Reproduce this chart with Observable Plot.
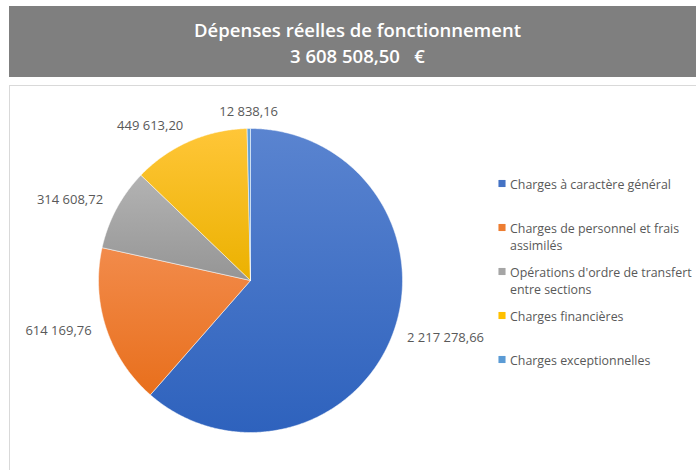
<!DOCTYPE html>
<html><head><meta charset="utf-8">
<script src="https://cdn.jsdelivr.net/npm/d3@7"></script>
<script src="https://cdn.jsdelivr.net/npm/@observablehq/plot@0.6"></script>
<style>
html,body{margin:0;padding:0;background:#fff;width:696px;height:470px;overflow:hidden;}
#header{position:absolute;left:9px;top:6px;width:687px;height:71px;background:#7f7f7f;color:#fff;font-family:"Open Sans",sans-serif;font-weight:600;font-size:18.5px;text-align:center;line-height:26px;padding-top:11px;padding-left:10px;box-sizing:border-box;white-space:pre;}
#frame{position:absolute;left:9px;top:85px;width:700px;height:400px;border-top:1px solid #d9d9d9;border-left:1px solid #d9d9d9;box-sizing:border-box;}
#chart{position:absolute;left:9px;top:85px;}
</style></head>
<body>
<div id="header"><div id="t1"></div><div id="t2"></div></div>
<div id="frame"></div>
<div id="chart"></div>
<script>
// ---- data ----
const title = "Dépenses réelles de fonctionnement";
const totalLabel = "3 608 508,50   €";
const categories = [
  "Charges à caractère général",
  "Charges de personnel et frais assimilés",
  "Opérations d'ordre de transfert entre sections",
  "Charges financières",
  "Charges exceptionnelles"
];
const values = [2217278.66, 614169.76, 314608.72, 449613.20, 12838.16];

// ---- styles ----
const baseColors = ["#4472c4", "#ed7d31", "#a5a5a5", "#ffc000", "#5b9bd5"];
const gradColors = [
  ["#5a84d0", "#2e62bd"],
  ["#f28b4b", "#e86f1c"],
  ["#b3b3b3", "#959595"],
  ["#ffc638", "#ebb100"],
  ["#65a3d9", "#4f90cc"]
];
const fontFamily = "'Open Sans', sans-serif";
const legendFontSize = 12.4;
const legendWrapPx = 195;

document.getElementById("t1").textContent = title;
document.getElementById("t2").textContent = totalLabel;

// ---- layout (pixels) ----
const W = 687, H = 385, cxPx = 241, cyPx = 195, Rpx = 152;
const legendSquareX = 492.5, legendTop = 98, legendStep = 44;
const toX = px => (px - cxPx) / Rpx;
const toY = py => (cyPx - py) / Rpx;

const frLocale = d3.formatLocale({decimal: ",", thousands: " ", grouping: [3], currency: ["", " €"]});
const fmt = frLocale.format(",.2f");

// word-wrap legend labels using real text measurement
const ctx = document.createElement("canvas").getContext("2d");
ctx.font = `${legendFontSize}px ${fontFamily}`;
function wrap(text) {
  const words = text.split(" ");
  const lines = [];
  let cur = "";
  for (const w of words) {
    const test = cur ? cur + " " + w : w;
    if (cur && ctx.measureText(test).width > legendWrapPx) { lines.push(cur); cur = w; }
    else cur = test;
  }
  if (cur) lines.push(cur);
  return lines.join("\n");
}

const arcs = d3.pie().sort(null).value(d => d)(values);
const slices = arcs.map(a => {
  const pts = [{x: 0, y: 0}];
  const n = Math.max(2, Math.ceil((a.endAngle - a.startAngle) / (Math.PI / 360)));
  for (let k = 0; k <= n; k++) {
    const t = a.startAngle + (a.endAngle - a.startAngle) * k / n;
    pts.push({x: Math.sin(t), y: Math.cos(t)});
  }
  pts.push({x: 0, y: 0});
  return pts;
});

const labels = arcs.map((a, i) => {
  const m = (a.startAngle + a.endAngle) / 2;
  const s = Math.sin(m);
  return {x: 1.1 * s, y: 1.1 * Math.cos(m), text: fmt(values[i]),
          anchor: Math.abs(s) < 0.2 ? "middle" : s > 0 ? "start" : "end"};
});

const legend = categories.map((c, i) => ({
  x: toX(legendSquareX), y: toY(legendTop + legendStep * i), label: wrap(c), color: baseColors[i]
}));

const svg = Plot.plot({
  width: W, height: H,
  margin: 0,
  x: {domain: [toX(0), toX(W)], axis: null},
  y: {domain: [toY(H), toY(0)], axis: null},
  color: {type: "identity"},
  style: {fontFamily, background: "transparent", overflow: "visible"},
  marks: [
    ...slices.map((pts, i) => Plot.line(pts, {x: "x", y: "y", fill: `url(#grad${i})`, stroke: "white", strokeWidth: 0.5, curve: "linear"})),
    ...["start", "middle", "end"].map(an => Plot.text(labels.filter(d => d.anchor === an), {
      x: "x", y: "y", text: "text", textAnchor: an, fontSize: 13, fill: "#595959", dy: -1.5
    })),
    Plot.dot(legend, {x: "x", y: "y", symbol: "square", r: 4, fill: "color", stroke: null}),
    Plot.text(legend, {x: "x", y: "y", text: "label", textAnchor: "start", dx: 8, dy: -7,
      lineAnchor: "top", lineHeight: 1.37, fontSize: legendFontSize, fill: "#595959"})
  ]
});

const defs = d3.select(svg).insert("defs", ":first-child");
gradColors.forEach(([top, bottom], i) => {
  const g = defs.append("linearGradient").attr("id", `grad${i}`)
    .attr("x1", 0).attr("y1", 0).attr("x2", 0).attr("y2", 1);
  g.append("stop").attr("offset", "0%").attr("stop-color", top);
  g.append("stop").attr("offset", "100%").attr("stop-color", bottom);
});

document.getElementById("chart").appendChild(svg);
</script>
</body></html>
